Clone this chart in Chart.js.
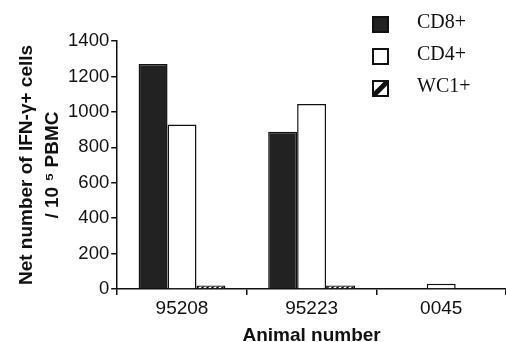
<!DOCTYPE html>
<html>
<head>
<meta charset="utf-8">
<script src="https://cdn.jsdelivr.net/npm/chart.js@4.4.1/dist/chart.umd.min.js"></script>
<style>
  html, body { margin: 0; padding: 0; background: #fff; }
  #wrap { width: 506px; height: 342px; }
</style>
</head>
<body>
<div id="wrap"><canvas id="chart" width="506" height="342"></canvas></div>
<script>
// values (IFN-gamma+ cells per 10^5 PBMC)
const animals = ["95208", "95223", "0045"];
const cd8 = [1270, 888, 0];
const cd4 = [928, 1045, 30];
const wc1 = [20, 20, 0];
const yTicks = [0, 200, 400, 600, 800, 1000, 1200, 1400];

const INK = "#111";
const SANS = "'Liberation Sans', Arial, sans-serif";

function hatch() {
  const c = document.createElement("canvas");
  c.width = 5; c.height = 5;
  const g = c.getContext("2d");
  g.fillStyle = "#fff";
  g.fillRect(0, 0, 5, 5);
  g.strokeStyle = INK;
  g.lineWidth = 1.6;
  g.beginPath();
  g.moveTo(-1, 6); g.lineTo(6, -1);
  g.moveTo(-1, 1); g.lineTo(1, -1);
  g.moveTo(4, 6); g.lineTo(6, 4);
  g.stroke();
  return g.createPattern(c, "repeat");
}

// legend drawn by hand: boxes with serif labels, top right above the plot
const legendBoxes = {
  id: "legendBoxes",
  afterDraw(chart) {
    const ctx = chart.ctx;
    const x = 372, size = 17, rows = [16, 48, 80];
    ctx.save();
    ctx.font = "20px 'Liberation Serif', serif";
    ctx.textBaseline = "middle";
    chart.data.datasets.forEach((ds, i) => {
      const y = rows[i];
      ctx.lineWidth = 2;
      ctx.strokeStyle = INK;
      ctx.fillStyle = i === 0 ? "#222" : "#fff";
      ctx.fillRect(x, y, size, size);
      if (i === 2) {
        ctx.save();
        ctx.beginPath();
        ctx.rect(x, y, size, size);
        ctx.clip();
        ctx.lineWidth = 5;
        ctx.beginPath();
        ctx.moveTo(x, y + size); ctx.lineTo(x + size, y);
        ctx.stroke();
        ctx.restore();
      }
      ctx.strokeRect(x + 1, y + 1, size - 2, size - 2);
      ctx.fillStyle = INK;
      ctx.fillText(ds.label, 417, y + size / 2 - 2);
    });
    ctx.restore();
  },
};

new Chart(document.getElementById("chart"), {
  type: "bar",
  data: {
    labels: animals,
    datasets: [
      { label: "CD8+", data: cd8, backgroundColor: "#222", borderColor: INK, borderWidth: 1.5 },
      { label: "CD4+", data: cd4, backgroundColor: "#fff", borderColor: INK, borderWidth: 1.5 },
      { label: "WC1+", data: wc1, backgroundColor: hatch(), borderColor: INK, borderWidth: 1.5 },
    ],
  },
  options: {
    responsive: false,
    animation: false,
    layout: { padding: { top: 41, right: 0, left: 14, bottom: -3 } },
    datasets: { bar: { categoryPercentage: 0.67, barPercentage: 1 } },
    plugins: { legend: { display: false }, tooltip: { enabled: false } },
    scales: {
      x: {
        grid: { offset: true, drawOnChartArea: false, color: INK, tickLength: 6, lineWidth: 1.5 },
        border: { color: INK, width: 1.5 },
        ticks: { color: INK, font: { family: SANS, size: 19, lineHeight: 1 }, padding: 4 },
        title: {
          display: true, text: "Animal number", color: INK, padding: { top: 4, bottom: 0 },
          font: { family: SANS, size: 19, weight: "bold", lineHeight: 1 },
        },
      },
      y: {
        min: 0, max: 1400,
        afterBuildTicks: (axis) => { axis.ticks = yTicks.map((v) => ({ value: v })); },
        grid: { drawOnChartArea: false, color: INK, tickLength: 6, lineWidth: 1.5 },
        border: { color: INK, width: 1.5 },
        ticks: {
          color: INK, padding: 2, callback: (v) => String(v),
          font: { family: SANS, size: 18.5 },
        },
        title: {
          display: true, text: ["Net number of IFN-γ+ cells", "/ 10 \u2075 PBMC"], color: INK,
          padding: { top: 0, bottom: 0 },
          font: { family: SANS, size: 19, weight: "bold", lineHeight: 1.37 },
        },
      },
    },
  },
  plugins: [legendBoxes],
});
</script>
</body>
</html>
